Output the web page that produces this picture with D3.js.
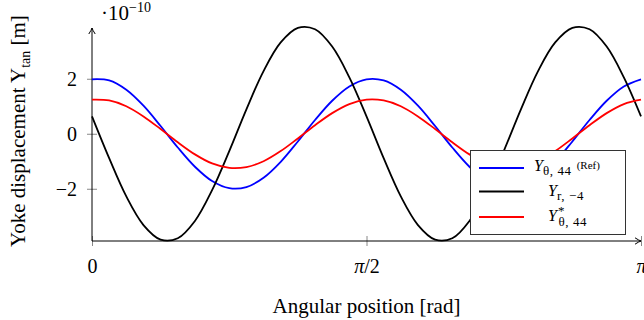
<!DOCTYPE html>
<html>
<head>
<meta charset="utf-8">
<script src="https://cdn.jsdelivr.net/npm/d3@7"></script>
<style>
  body { margin: 0; background: #fff; }
  svg { display: block; font-family: "Liberation Serif", "DejaVu Serif", serif; }
</style>
</head>
<body>
<div id="chart"></div>
<script>
// angular position [rad], read every pi/32
const angle = [0, 0.0982, 0.1963, 0.2945, 0.3927, 0.4909, 0.5890, 0.6872, 0.7854,
  0.8836, 0.9817, 1.0799, 1.1781, 1.2763, 1.3744, 1.4726, 1.5708,
  1.6690, 1.7671, 1.8653, 1.9635, 2.0617, 2.1598, 2.2580, 2.3562,
  2.4544, 2.5525, 2.6507, 2.7489, 2.8471, 2.9452, 3.0434, 3.1416];

// Y displacement, units of 1e-10 m
const yRef = [1.98, 1.94, 1.60, 1.02, 0.28, -0.50, -1.20, -1.72, -1.98, -1.94, -1.60, -1.02, -0.28, 0.50, 1.20, 1.72,
  1.98, 1.94, 1.60, 1.02, 0.28, -0.50, -1.20, -1.72, -1.98, -1.94, -1.60, -1.02, -0.28, 0.50, 1.20, 1.72, 1.98];
const yR4 = [0.63, -0.89, -2.28, -3.32, -3.85, -3.80, -3.17, -2.05, -0.63, 0.89, 2.28, 3.32, 3.85, 3.80, 3.17, 2.05,
  0.63, -0.89, -2.28, -3.32, -3.85, -3.80, -3.17, -2.05, -0.63, 0.89, 2.28, 3.32, 3.85, 3.80, 3.17, 2.05, 0.63];
const yStar = [1.24, 1.21, 1.00, 0.63, 0.17, -0.31, -0.75, -1.08, -1.24, -1.21, -1.00, -0.63, -0.17, 0.31, 0.75, 1.08,
  1.24, 1.21, 1.00, 0.63, 0.17, -0.31, -0.75, -1.08, -1.24, -1.21, -1.00, -0.63, -0.17, 0.31, 0.75, 1.08, 1.24];

const xTicks = [0, Math.PI / 2, Math.PI];
const xTickLabels = ["0", "π/2", "π"];
const yTicks = [-2, 0, 2];

const W = 644, H = 320;
const margin = { top: 26.5, right: 3, bottom: 79, left: 92 };
const width = W - margin.left - margin.right;
const height = H - margin.top - margin.bottom;

const svg = d3.select("#chart").append("svg")
  .attr("width", W)
  .attr("height", H);

const g = svg.append("g")
  .attr("transform", `translate(${margin.left},${margin.top})`);

const x = d3.scaleLinear().domain([0, Math.PI]).range([0, width]);
const y = d3.scaleLinear().domain([-3.9, 3.9]).range([height, 0]);

// axes
const xAxis = g.append("g")
  .attr("transform", `translate(0,${height})`)
  .call(d3.axisBottom(x).tickValues(xTicks).tickSize(5).tickPadding(13)
    .tickFormat((d, i) => xTickLabels[i]));
xAxis.select(".domain").remove();
xAxis.selectAll(".tick line").attr("y1", -5).attr("y2", 5).attr("stroke", "#888");
xAxis.selectAll(".tick text")
  .attr("font-family", "Liberation Serif")
  .attr("font-size", 20)
  .attr("fill", "#000")
  .html((d, i) => i === 0 ? "0" : i === 1
    ? '<tspan font-style="italic">π</tspan>/2' : '<tspan font-style="italic">π</tspan>');

const yAxis = g.append("g")
  .call(d3.axisLeft(y).tickValues(yTicks).tickSize(5).tickPadding(10));
yAxis.select(".domain").remove();
yAxis.selectAll(".tick line").attr("x1", -5).attr("x2", 5).attr("stroke", "#888");
yAxis.selectAll(".tick text")
  .attr("font-family", "Liberation Serif")
  .attr("font-size", 20)
  .attr("fill", "#000");

// axis lines with arrows
g.append("line")
  .attr("x1", 0).attr("x2", width)
  .attr("y1", height).attr("y2", height)
  .attr("stroke", "#000").attr("stroke-width", 1);
g.append("line")
  .attr("x1", 0).attr("x2", 0)
  .attr("y1", height).attr("y2", 1.5)
  .attr("stroke", "#000").attr("stroke-width", 1);

const arrow = "M-6,-3.2 Q-2,-0.6 0,0 Q-2,0.6 -6,3.2";
g.append("path")
  .attr("d", arrow)
  .attr("transform", `translate(${width},${height})`)
  .attr("fill", "none").attr("stroke", "#000").attr("stroke-width", 1);
g.append("path")
  .attr("d", arrow)
  .attr("transform", `translate(0,1.5) rotate(-90)`)
  .attr("fill", "none").attr("stroke", "#000").attr("stroke-width", 1);

// curves
const line = d3.line()
  .x((d, i) => x(angle[i]))
  .y(d => y(d))
  .curve(d3.curveCatmullRom.alpha(0.5));

const series = [
  { values: yRef, color: "#0000ff" },
  { values: yR4, color: "#000000" },
  { values: yStar, color: "#ff0000" }
];

g.selectAll(".curve")
  .data(series)
  .join("path")
  .attr("class", "curve")
  .attr("d", d => line(d.values))
  .attr("fill", "none")
  .attr("stroke", d => d.color)
  .attr("stroke-width", 1.8);

// scale factor
const exp = svg.append("text")
  .attr("x", 101)
  .attr("y", 20)
  .attr("font-size", 21);
exp.append("tspan").text("·10");
exp.append("tspan").attr("font-size", 14).attr("dy", -8).text("−10");

// axis titles
svg.append("text")
  .attr("x", margin.left + width / 2)
  .attr("y", 313)
  .attr("text-anchor", "middle")
  .attr("font-size", 21)
  .text("Angular position [rad]");

const ylab = svg.append("text")
  .attr("transform", "translate(25,131) rotate(-90)")
  .attr("text-anchor", "middle")
  .attr("font-size", 21);
ylab.append("tspan").text("Yoke displacement Y");
ylab.append("tspan").attr("font-size", 14).attr("dy", 5).text("tan");
ylab.append("tspan").attr("dy", -5).text(" [m]");

// legend
const legend = svg.append("g");
legend.append("rect")
  .attr("x", 470.5).attr("y", 150.5)
  .attr("width", 155).attr("height", 84)
  .attr("fill", "#fff").attr("stroke", "#333").attr("stroke-width", 1);

const rows = [168, 191.5, 217];
series.forEach((s, i) => {
  legend.append("line")
    .attr("x1", 479).attr("x2", 524)
    .attr("y1", rows[i]).attr("y2", rows[i])
    .attr("stroke", s.color).attr("stroke-width", 1.8);
});

// row 1
const l1 = legend.append("text").attr("x", 534).attr("y", rows[0] + 3).attr("font-size", 16);
l1.append("tspan").attr("font-style", "italic").text("Y");
l1.append("tspan").attr("font-size", 13).attr("dy", 4).attr("letter-spacing", 0.6).text("θ, 44");
l1.append("tspan").attr("font-size", 11).attr("dx", 5).attr("dy", -6).text("(Ref)");

// row 2
const l2 = legend.append("text").attr("x", 548).attr("y", rows[1] + 4).attr("font-size", 16);
l2.append("tspan").attr("font-style", "italic").text("Y");
l2.append("tspan").attr("font-size", 13).attr("dy", 4).attr("letter-spacing", 0.6).text("r, −4");

// row 3: star above, subscript below
const l3 = legend.append("text").attr("x", 548).attr("y", rows[2] + 4).attr("font-size", 16);
l3.append("tspan").attr("font-style", "italic").text("Y");
l3.append("tspan").attr("font-size", 13).attr("dx", 1).attr("dy", -6).text("*");
l3.append("tspan").attr("font-size", 13).attr("dx", -6).attr("dy", 11).attr("letter-spacing", 0.6).text("θ, 44");
</script>
</body>
</html>
